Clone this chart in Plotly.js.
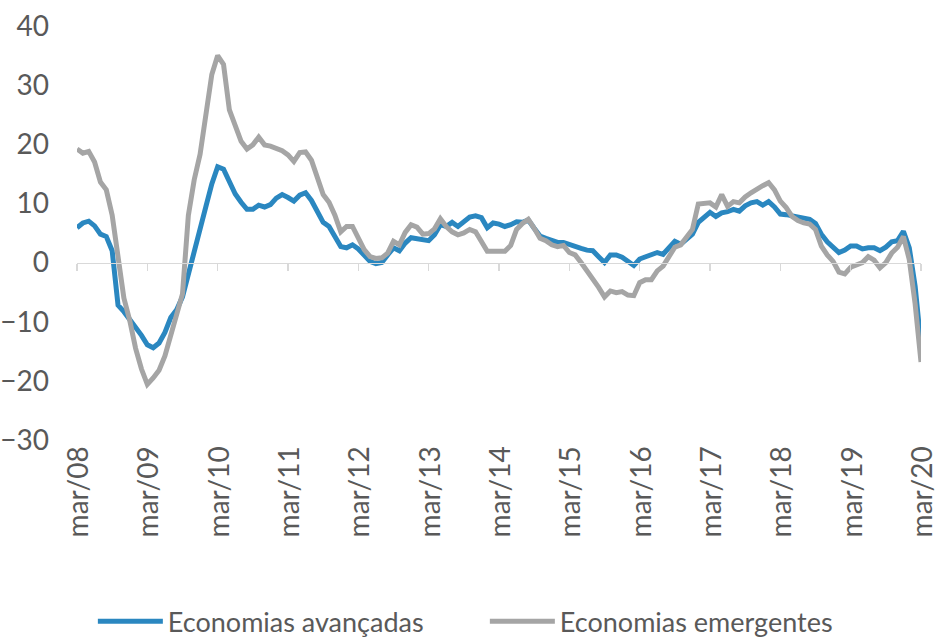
<!DOCTYPE html>
<html>
<head>
<meta charset="utf-8">
<script src="https://cdn.plot.ly/plotly-3.0.1.min.js"></script>
<style>html,body{margin:0;padding:0;background:#fff;}#chart{width:938px;height:637px;}</style>
</head>
<body>
<div id="chart"></div>
<script>
// Month names (pt) starting from March, used to build the monthly category labels mar/08 ... mar/20
const monthNames = ['mar','abr','mai','jun','jul','ago','set','out','nov','dez','jan','fev'];
const startYear = 8;
const nMonths = 145;

// Economias avançadas (monthly, mar/08 – mar/20)
const avancadas = [
  5.9, 6.7, 7.0, 6.2, 4.8, 4.4, 2.0, -7.2, -8.3, -9.6, -10.8, -12.3,
  -13.9, -14.4, -13.6, -11.8, -9.3, -8.0, -5.8, -1.8, 2.0, 5.8, 9.5, 13.3,
  16.2, 15.8, 13.5, 11.6, 10.2, 9.0, 9.0, 9.7, 9.4, 9.8, 10.9, 11.5,
  11.0, 10.4, 11.4, 11.8, 10.5, 8.6, 6.8, 6.1, 4.5, 2.7, 2.5, 3.0,
  2.3, 1.2, 0.2, -0.2, 0.0, 1.3, 2.5, 2.0, 3.3, 4.2, 4.0, 3.8,
  3.7, 4.7, 6.4, 6.1, 6.8, 6.1, 6.9, 7.7, 7.9, 7.6, 5.9, 6.7,
  6.5, 6.1, 6.4, 6.9, 6.8, 7.2, 5.8, 4.5, 4.1, 3.7, 3.4, 3.4,
  3.0, 2.7, 2.4, 2.1, 2.0, 1.0, 0.0, 1.3, 1.3, 0.9, 0.3, -0.5,
  0.6, 0.9, 1.2, 1.7, 1.4, 2.6, 3.6, 3.1, 3.9, 4.8, 6.8, 7.6,
  8.5, 7.8, 8.4, 8.6, 9.0, 8.7, 9.6, 10.1, 10.3, 9.7, 10.3, 9.4,
  8.2, 8.1, 7.9, 7.8, 7.6, 7.3, 6.6, 4.8, 3.5, 2.6, 1.7, 2.1,
  2.8, 2.8, 2.3, 2.5, 2.5, 2.0, 2.6, 3.5, 3.7, 5.3, 2.5, -4.0,
  -14.0
];

// Economias emergentes (monthly, mar/08 – mar/20)
const emergentes = [
  19.2, 18.5, 18.8, 17.0, 13.6, 12.3, 8.0, 1.0, -6.0, -9.8, -14.5, -18.0,
  -20.6, -19.5, -18.2, -15.8, -12.4, -9.3, -5.3, 8.0, 14.0, 18.3, 25.8, 31.8,
  35.0, 33.5, 25.8, 22.9, 20.5, 19.2, 19.9, 21.2, 19.9, 19.7, 19.4, 18.9,
  18.2, 17.1, 18.6, 18.7, 17.3, 14.5, 11.5, 10.2, 8.0, 5.2, 6.1, 6.1,
  4.2, 2.2, 1.0, 0.7, 0.8, 1.6, 3.6, 3.0, 5.1, 6.4, 6.0, 4.8,
  4.9, 5.7, 7.4, 6.1, 5.2, 4.7, 5.0, 5.6, 5.2, 3.6, 1.9, 1.9,
  1.9, 1.9, 2.9, 5.6, 6.6, 7.3, 5.8, 4.1, 3.7, 3.0, 2.7, 2.9,
  1.7, 1.3, 0.0, -1.3, -2.6, -4.2, -5.8, -4.8, -5.1, -4.9, -5.5, -5.6,
  -3.4, -2.9, -2.9, -1.4, -0.6, 1.1, 2.6, 3.0, 4.4, 5.6, 9.9, 10.1,
  10.1, 9.4, 11.5, 9.5, 10.3, 10.1, 11.1, 11.8, 12.5, 13.0, 13.5, 12.3,
  10.4, 9.3, 7.8, 7.1, 6.7, 6.5, 5.6, 2.8, 1.3, 0.2, -1.6, -1.9,
  -0.8, -0.4, 0.0, 1.0, 0.4, -0.9, 0.0, 1.6, 2.6, 4.4, 0.5, -7.0,
  -16.8
];

const yTicks = [-30, -20, -10, 0, 10, 20, 30, 40];

// Category labels
const categories = [];
for (let i = 0; i < nMonths; i++) {
  const yr = startYear + Math.floor((i + 2) / 12);
  categories.push(monthNames[i % 12] + '/' + String(yr).padStart(2, '0'));
}
const xTickVals = categories.filter(c => c.startsWith('mar/'));

const textColor = '#595959';
const fontFam = 'Lato, "Open Sans", sans-serif';

const traces = [
  {
    x: categories, y: avancadas, type: 'scatter', mode: 'lines',
    name: 'Economias avançadas',
    line: {color: '#2a87c0', width: 5}
  },
  {
    x: categories, y: emergentes, type: 'scatter', mode: 'lines',
    name: 'Economias emergentes',
    line: {color: '#a5a5a5', width: 5}
  }
];

const layout = {
  width: 938, height: 637,
  margin: {l: 77, r: 17, t: 26, b: 197, pad: 0},
  paper_bgcolor: '#ffffff', plot_bgcolor: '#ffffff',
  font: {family: fontFam, color: textColor, size: 27},
  showlegend: true,
  legend: {
    orientation: 'h', xref: 'container', yref: 'container',
    x: 0.099, xanchor: 'left', y: 0.024, yanchor: 'middle',
    font: {family: fontFam, size: 27, color: textColor},
    itemwidth: 65,
    entrywidth: 312, entrywidthmode: 'pixels',
    bgcolor: 'rgba(0,0,0,0)'
  },
  xaxis: {
    type: 'category',
    range: [0, nMonths - 1],
    anchor: 'free', position: 30 / 70,
    showline: true, linecolor: '#d9d9d9', linewidth: 1.5,
    ticks: 'outside', ticklen: 7, tickwidth: 1.5, tickcolor: '#d9d9d9',
    tickmode: 'array', tickvals: xTickVals, ticktext: xTickVals,
    tickangle: -90,
    ticklabelstandoff: 164, ticklabelshift: 2,
    tickfont: {family: fontFam, size: 28, color: textColor},
    showgrid: false, zeroline: false, fixedrange: true
  },
  yaxis: {
    range: [-30, 40],
    tickmode: 'array', tickvals: yTicks,
    ticks: '', showline: false, showgrid: false, zeroline: false,
    ticklabelstandoff: 27,
    tickfont: {family: fontFam, size: 28, color: textColor},
    fixedrange: true
  }
};

Plotly.newPlot('chart', traces, layout, {displayModeBar: false, staticPlot: true});
</script>
</body>
</html>
